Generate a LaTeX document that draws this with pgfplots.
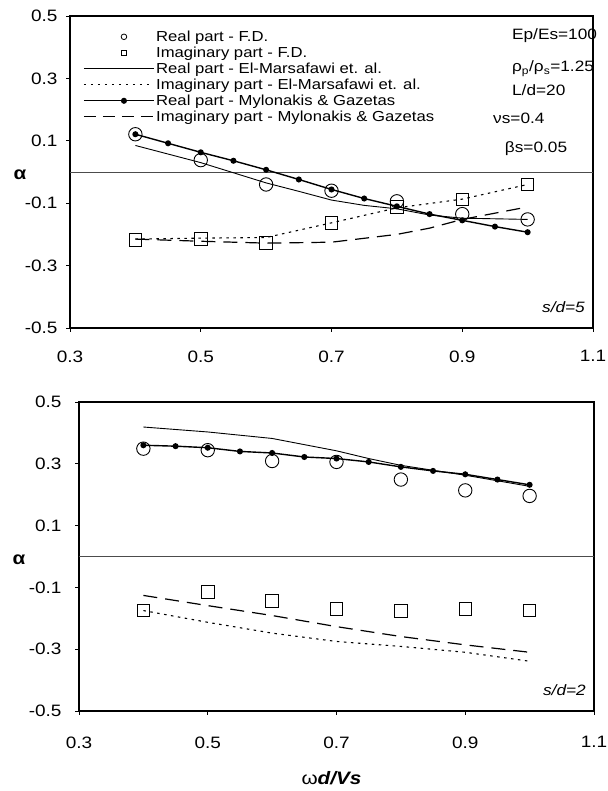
\documentclass[border=0pt]{standalone}
\usepackage{pgfplots}
\pgfplotsset{compat=1.18}
\usepackage{fontspec}
\setmainfont[FakeStretch=1.15]{Liberation Sans}
\tikzset{ptxt/.style={anchor=base west, font=\fontsize{15}{15}\selectfont, inner sep=0pt}}
\begin{document}
\begin{tikzpicture}
\useasboundingbox (0,0) rectangle (607pt,791pt);
\pgfplotsset{
  common/.style={
    scale only axis,
    xmin=0.3, xmax=1.1, ymin=-0.5, ymax=0.5,
    xtick={0.3,0.5,0.7,0.9,1.1},
    xticklabels={0.3,0.5,0.7,0.9,1.1},
    ytick={-0.5,-0.3,-0.1,0.1,0.3,0.5},
    yticklabels={-0.5,-0.3,-0.1,0.1,0.3,0.5},
    xtick pos=lower, ytick pos=left,
    tick align=outside,
    major tick length=4pt,
    tick style={black, line width=0.6pt},
    axis line style={black, line width=1.1pt},
    ticklabel style={font=\fontsize{16.5}{16.5}\selectfont},
    extra y ticks={0},
    extra y tick labels={},
    extra y tick style={grid=major, major grid style={black!70, line width=0.6pt}, major tick length=0pt},
    clip=false,
  },
  fdr/.style={only marks, mark=o, mark size=6.7pt, black, line width=0.9pt},
  fdi/.style={only marks, mark=square, mark size=6.3pt, black, line width=0.9pt},
  elr/.style={black, line width=0.9pt, mark=none},
  eli/.style={black, line width=1.1pt, dash pattern=on 2.5pt off 4.5pt, mark=none},
  myr/.style={black, line width=1.4pt, mark=*, mark size=2.3pt},
  myi/.style={black, line width=1.2pt, dash pattern=on 14pt off 8pt, mark=none},
  legmark/.style={legend image code/.code={\draw[##1, mark size=2.8pt, line width=0.8pt] plot coordinates {(40pt,0pt)};}},
  legline/.style={legend image code/.code={\draw[##1] (0pt,0pt) -- (70pt,0pt);}},
  legmy/.style={legend image code/.code={\draw[##1, mark repeat=2, mark phase=2] plot coordinates {(0pt,0pt)(40pt,0pt)(70pt,0pt)};}},
  legdash/.style={legend image code/.code={\draw[black, line width=1.2pt, dash pattern=on 12pt off 7pt] (0pt,0pt) -- (70pt,0pt);}},
}
% ---------- top panel ----------
\begin{axis}[common,
  at={(70pt,463pt)}, anchor=south west,
  width=523pt, height=312pt,
  xticklabel style={yshift=-15pt},
  yticklabel style={xshift=-5pt},
  legend style={at={(rel axis cs:0.025,0.962)}, anchor=north west, draw=none, fill=none,
    font=\fontsize{14.5}{14.5}\selectfont, row sep=-1.5pt, inner sep=0pt,
    nodes={inner sep=1.5pt, text height=11.5pt, text depth=3pt}},
  legend cell align=left,
]
\addplot[fdr, legmark]
  coordinates {(0.4,0.121)(0.5,0.038)(0.6,-0.040)(0.7,-0.060)(0.8,-0.094)(0.9,-0.135)(1.0,-0.152)};
\addlegendentry{Real part - F.D.}
\addplot[fdi, legmark]
  coordinates {(0.4,-0.217)(0.5,-0.215)(0.6,-0.228)(0.7,-0.163)(0.8,-0.113)(0.9,-0.088)(1.0,-0.040)};
\addlegendentry{Imaginary part - F.D.}
\addplot[elr, legline]
  coordinates {(0.4,0.085)(0.5,0.030)(0.6,-0.035)(0.65,-0.062)(0.7,-0.090)(0.75,-0.107)(0.8,-0.118)(0.85,-0.138)(0.9,-0.148)(0.95,-0.150)(1.0,-0.152)};
\addlegendentry{Real part - El-Marsafawi et. al.}
\addplot[eli, legline]
  coordinates {(0.4,-0.215)(0.5,-0.212)(0.6,-0.210)(0.7,-0.163)(0.8,-0.115)(0.9,-0.087)(1.0,-0.040)};
\addlegendentry{Imaginary part - El-Marsafawi et. al.}
\addplot[myr, legmy]
  coordinates {(0.4,0.121)(0.45,0.092)(0.5,0.063)(0.55,0.036)(0.6,0.007)(0.65,-0.024)(0.7,-0.056)(0.75,-0.085)(0.8,-0.110)(0.85,-0.135)(0.9,-0.155)(0.95,-0.175)(1.0,-0.193)};
\addlegendentry{Real part - Mylonakis \& Gazetas}
\addplot[myi, legdash]
  coordinates {(0.4,-0.215)(0.5,-0.222)(0.6,-0.228)(0.7,-0.225)(0.8,-0.200)(0.85,-0.180)(0.9,-0.152)(1.0,-0.112)};
\addlegendentry{Imaginary part - Mylonakis \& Gazetas}
\node[ptxt] at (axis cs:0.976,0.426) {Ep/Es=100};
\node[ptxt] at (axis cs:0.976,0.3205) {ρ\textsubscript{p}/ρ\textsubscript{s}=1.25};
\node[ptxt] at (axis cs:0.976,0.245) {L/d=20};
\node[ptxt] at (axis cs:0.947,0.157) {νs=0.4};
\node[ptxt] at (axis cs:0.965,0.064) {βs=0.05};
\node[anchor=east, font=\fontsize{15}{15}\selectfont\itshape, inner sep=0pt] at (rel axis cs:1,0) [xshift=-8pt, yshift=21pt] {s/d=5};
\node[font=\fontsize{18}{18}\selectfont\bfseries, inner sep=0pt] at (rel axis cs:0,0.5) [xshift=-50pt, yshift=-3pt] {α};
\end{axis}
% ---------- bottom panel ----------
\begin{axis}[common,
  at={(79pt,80pt)}, anchor=south west,
  width=515pt, height=309pt,
  xticklabel style={yshift=-18pt},
  yticklabel style={xshift=-10pt},
]
\addplot[fdr] coordinates {(0.4,0.349)(0.5,0.344)(0.6,0.309)(0.7,0.306)(0.8,0.249)(0.9,0.214)(1.0,0.196)};
\addplot[fdi] coordinates {(0.4,-0.175)(0.5,-0.114)(0.6,-0.143)(0.7,-0.170)(0.8,-0.177)(0.9,-0.170)(1.0,-0.175)};
\addplot[elr] coordinates {(0.4,0.419)(0.5,0.403)(0.6,0.382)(0.7,0.342)(0.75,0.317)(0.8,0.295)(0.9,0.263)(1.0,0.227)};
\addplot[eli] coordinates {(0.4,-0.175)(0.5,-0.213)(0.6,-0.248)(0.7,-0.275)(0.8,-0.291)(0.9,-0.310)(1.0,-0.339)};
\addplot[myr] coordinates {(0.4,0.360)(0.45,0.357)(0.5,0.352)(0.55,0.340)(0.6,0.335)(0.65,0.322)(0.7,0.317)(0.75,0.306)(0.8,0.290)(0.85,0.277)(0.9,0.266)(0.95,0.249)(1.0,0.232)};
\addplot[myi] coordinates {(0.4,-0.126)(0.5,-0.159)(0.6,-0.191)(0.7,-0.227)(0.8,-0.259)(0.9,-0.286)(1.0,-0.310)};
\node[anchor=east, font=\fontsize{15}{15}\selectfont\itshape, inner sep=0pt] at (rel axis cs:1,0) [xshift=-8pt, yshift=21pt] {s/d=2};
\node[font=\fontsize{18}{18}\selectfont\bfseries, inner sep=0pt] at (rel axis cs:0,0.5) [xshift=-60pt, yshift=-3pt] {α};
\node[font=\fontsize{18}{18}\selectfont, inner sep=0pt] at (rel axis cs:0.5,0) [yshift=-67pt, xshift=-5pt] {ω\textbf{\textit{d/Vs}}};
\end{axis}
\end{tikzpicture}
\end{document}
